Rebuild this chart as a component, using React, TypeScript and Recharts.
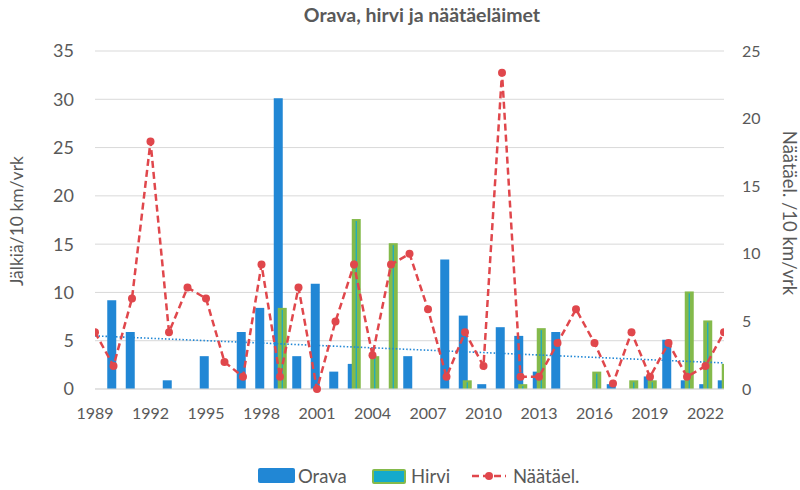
import React from "react";
import { ComposedChart, Bar, Line, XAxis, YAxis, CartesianGrid } from "recharts";

const years = [
  1989, 1990, 1991, 1992, 1993, 1994, 1995, 1996, 1997, 1998, 1999, 2000, 2001, 2002, 2003, 2004, 2005, 2006,
  2007, 2008, 2009, 2010, 2011, 2012, 2013, 2014, 2015, 2016, 2017, 2018, 2019, 2020, 2021, 2022, 2023,
];
const orava = [
  null, 9.2, 5.9, null, 0.9, null, 3.4, null, 5.9, 8.4, 30.1, 3.4, 10.9, 1.8, 2.6, null, null, 3.4,
  null, 13.4, 7.6, 0.5, 6.4, 5.5, 1.8, 5.9, null, null, 0.5, null, 1.3, 5.1, 0.9, 0.5, 0.9,
];
const hirvi = [
  null, null, null, null, null, null, null, null, null, null, 8.4, null, null, null, 17.6, 3.4, 15.1, null,
  null, null, 0.9, null, null, 0.5, 6.3, null, null, 1.8, null, 0.9, 0.9, null, 10.1, 7.1, 2.6,
];
const naata = [
  4.2, 1.7, 6.7, 18.3, 4.2, 7.5, 6.7, 2.0, 0.9, 9.2, 0.9, 7.5, 0.0, 5.0, 9.2, 2.5, 9.2, 10.0,
  5.9, 0.9, 4.2, 1.7, 23.4, 0.9, 0.9, 3.4, 5.9, 3.4, 0.4, 4.2, 0.9, 3.4, 0.9, 1.7, 4.2,
];
// Orava linear trendline end points
const trendYears = [1989, 2023];
const trendValues = [5.5, 2.7];

const xTicks = [1989, 1992, 1995, 1998, 2001, 2004, 2007, 2010, 2013, 2016, 2019, 2022];
const leftTicks = [0, 5, 10, 15, 20, 25, 30, 35];
const rightTicks = [0, 5, 10, 15, 20, 25];

const data = years.map((year, i) => ({ year, orava: orava[i], hirvi: hirvi[i], naata: naata[i] }));
const trendData = trendYears.map((year, i) => ({ year, trend: trendValues[i] }));

const FONT = "Lato, 'Open Sans', sans-serif";
const TEXT = "#595959";
const BLUE = "#2187D5";
const GREEN = "#84BA4B";
const CYAN = "#14AACB";
const RED = "#E0474C";

const HirviBar = (props: any) => {
  const { x, y, width, height } = props;
  if (!height || height <= 0) return null;
  return (
    <g>
      <rect x={x} y={y} width={width} height={height} fill={GREEN} />
      <rect x={x + width / 2 - 0.6} y={y + 2} width={1.2} height={Math.max(height - 2, 0)} fill={CYAN} />
    </g>
  );
};

const legendText = { position: "absolute" as const, top: 465, fontSize: 18.5, color: TEXT, lineHeight: "22px" };

export default function App() {
  return (
    <div style={{ position: "absolute", left: 0, top: 0, width: 800, height: 490, background: "#fff", fontFamily: FONT }}>
      <div
        style={{
          position: "absolute",
          top: 3,
          left: 22,
          width: 800,
          textAlign: "center",
          fontSize: 19.5,
          fontWeight: 700,
          color: TEXT,
        }}
      >
        Orava, hirvi ja näätäeläimet
      </div>
      <div
        style={{
          position: "absolute",
          left: 16,
          top: 221,
          transform: "translate(-50%, -50%) rotate(-90deg)",
          whiteSpace: "nowrap",
          fontSize: 17.5,
          color: TEXT,
        }}
      >
        Jälkiä/10 km/vrk
      </div>
      <div
        style={{
          position: "absolute",
          left: 790,
          top: 213,
          transform: "translate(-50%, -50%) rotate(90deg)",
          whiteSpace: "nowrap",
          fontSize: 18.5,
          color: TEXT,
        }}
      >
        Näätäel. /10 km/vrk
      </div>

      <ComposedChart
        width={800}
        height={490}
        data={data}
        margin={{ top: 51, right: 0, bottom: 71, left: 0 }}
        barGap={-5}
      >
        <CartesianGrid yAxisId="left" vertical={false} stroke="#D9D9D9" />
        <XAxis
          dataKey="year"
          type="number"
          domain={[1989, 2023]}
          ticks={xTicks}
          tick={{ fill: TEXT, fontSize: 16, fontFamily: FONT }}
          tickLine={false}
          tickMargin={13}
          axisLine={{ stroke: "#D9D9D9" }}
          height={30}
          allowDataOverflow
        />
        <YAxis
          yAxisId="left"
          domain={[0, 35]}
          ticks={leftTicks}
          tick={{ fill: TEXT, fontSize: 18, fontFamily: FONT }}
          tickLine={false}
          axisLine={false}
          tickMargin={15}
          width={95}
        />
        <YAxis
          yAxisId="right"
          orientation="right"
          domain={[0, 25]}
          ticks={rightTicks}
          tick={{ fill: TEXT, fontSize: 16, fontFamily: FONT }}
          tickLine={false}
          axisLine={false}
          tickMargin={12}
          width={76}
        />
        <Bar yAxisId="left" dataKey="orava" name="Orava" barSize={9} fill={BLUE} isAnimationActive={false} />
        <Bar yAxisId="left" dataKey="hirvi" name="Hirvi" barSize={9} fill={GREEN} shape={<HirviBar />} isAnimationActive={false} />
        <Line
          yAxisId="left"
          data={trendData}
          dataKey="trend"
          stroke={BLUE}
          strokeWidth={1.6}
          strokeDasharray="1.5 2"
          dot={false}
          activeDot={false}
          isAnimationActive={false}
        />
        <Line
          yAxisId="right"
          dataKey="naata"
          name="Näätäel."
          stroke={RED}
          strokeWidth={2.5}
          strokeDasharray="7 4"
          dot={{ r: 4, fill: RED, stroke: RED, strokeWidth: 0 }}
          activeDot={false}
          isAnimationActive={false}
        />
      </ComposedChart>

      <span style={{ position: "absolute", left: 258, top: 468, width: 37, height: 15, background: BLUE, borderRadius: 2 }} />
      <span style={{ ...legendText, left: 298 }}>Orava</span>
      <span
        style={{
          position: "absolute",
          left: 372,
          top: 469,
          width: 30,
          height: 11,
          background: CYAN,
          border: `2px solid ${GREEN}`,
          borderRadius: 2,
        }}
      />
      <span style={{ ...legendText, left: 411 }}>Hirvi</span>
      <svg width={34} height={14} style={{ position: "absolute", left: 472, top: 469 }}>
        <line x1={0} y1={7} x2={34} y2={7} stroke={RED} strokeWidth={2.5} strokeDasharray="7 4" />
        <circle cx={17} cy={7} r={4} fill={RED} />
      </svg>
      <span style={{ ...legendText, left: 513 }}>Näätäel.</span>
    </div>
  );
}
